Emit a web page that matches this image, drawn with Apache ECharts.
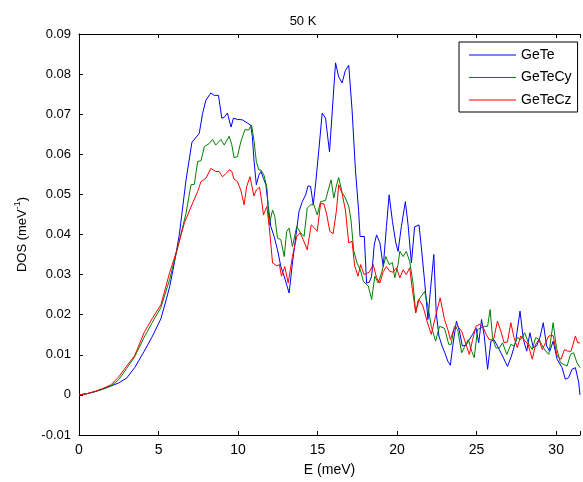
<!DOCTYPE html>
<html>
<head>
<meta charset="utf-8">
<script src="https://cdn.jsdelivr.net/npm/echarts@6/dist/echarts.min.js"></script>
<style>html,body{margin:0;padding:0;background:#fff}#c{width:583px;height:482px}</style>
</head>
<body>
<div id="c"></div>
<script>
const seriesNames = ['GeTe', 'GeTeCy', 'GeTeCz'];
const seriesColors = ['#0000ff', '#008000', '#ff0000'];

const eGeTe = [0,0.5,1,1.5,2,2.5,3,3.5,4.1,4.6,5.15,5.5,5.7,6.0,6.31,6.73,7.1,7.56,7.77,7.98,8.29,8.5,8.6,8.77,8.98,9.13,9.33,9.56,9.71,9.96,10.27,10.58,10.79,10.9,11.0,11.15,11.31,11.44,11.6,11.75,11.9,12.06,12.27,12.48,12.69,12.9,13.21,13.42,13.63,13.83,14.04,14.25,14.4,14.56,14.73,14.88,15.08,15.29,15.5,15.75,15.92,16.13,16.33,16.54,16.75,16.96,17.17,17.38,17.58,17.67,17.94,18.08,18.25,18.4,18.56,18.71,18.92,19.13,19.33,19.5,19.71,19.92,20.06,20.27,20.52,20.69,20.9,21.1,21.38,21.52,21.73,21.94,22.1,22.31,22.46,22.63,22.83,23.0,23.19,23.35,23.5,23.73,23.92,24.1,24.33,24.54,24.75,24.96,25.13,25.31,25.48,25.69,25.9,26.1,26.31,26.63,26.94,27.19,27.46,27.73,27.94,28.15,28.35,28.56,28.77,28.98,29.19,29.4,29.6,29.81,30.06,30.37,30.58,30.79,31.0,31.21,31.42,31.5];
const dosGeTe = [0,0.0003,0.0008,0.0015,0.0022,0.003,0.0042,0.0068,0.0109,0.0145,0.019,0.024,0.027,0.033,0.04,0.0536,0.063,0.0652,0.0702,0.0735,0.0753,0.0747,0.0745,0.0747,0.069,0.0692,0.0703,0.0668,0.069,0.0687,0.0686,0.0678,0.0673,0.0644,0.0586,0.0524,0.0548,0.0557,0.054,0.0524,0.047,0.042,0.0395,0.0362,0.032,0.0296,0.0254,0.0329,0.0395,0.0457,0.0482,0.0499,0.0521,0.052,0.0474,0.0528,0.0611,0.0703,0.069,0.0606,0.0706,0.0828,0.0793,0.0778,0.0809,0.0822,0.071,0.0561,0.046,0.0395,0.0395,0.0279,0.0281,0.0296,0.0374,0.0399,0.0379,0.032,0.042,0.0499,0.0432,0.0379,0.0358,0.042,0.0482,0.0424,0.0329,0.0419,0.0424,0.037,0.0283,0.0188,0.0263,0.035,0.0205,0.0147,0.0122,0.0105,0.0084,0.0074,0.0122,0.0184,0.0159,0.0122,0.0124,0.0138,0.0151,0.0167,0.013,0.0188,0.0147,0.0064,0.0134,0.0137,0.0122,0.0097,0.0071,0.0097,0.0134,0.0209,0.0138,0.0109,0.0155,0.0118,0.0122,0.0143,0.018,0.0122,0.0109,0.0134,0.0089,0.0068,0.0039,0.0043,0.0064,0.0068,0.0031,0.0];

const eGeTeCy = [0,0.5,1,1.5,2,2.5,3,3.5,4.1,4.6,5.15,5.7,6.2,6.73,7.04,7.25,7.46,7.67,7.88,8.19,8.4,8.6,8.92,9.13,9.44,9.6,9.75,9.96,10.17,10.44,10.65,10.85,11.0,11.15,11.3,11.44,11.63,11.75,11.83,11.96,12.17,12.31,12.48,12.69,12.79,12.9,13.06,13.21,13.42,13.69,13.94,14.15,14.35,14.56,14.77,14.98,15.19,15.5,15.67,15.85,16.02,16.17,16.33,16.54,16.75,16.96,17.1,17.27,17.48,17.69,17.88,18.19,18.4,18.6,18.81,19.02,19.29,19.5,19.71,19.85,20.06,20.17,20.38,20.58,20.79,21.0,21.17,21.31,21.52,21.73,21.94,22.15,22.42,22.67,22.98,23.25,23.4,23.6,23.81,24.06,24.27,24.48,24.69,24.85,25.06,25.27,25.48,25.69,25.85,26.0,26.2,26.42,26.63,26.9,27.15,27.35,27.56,27.77,28.02,28.29,28.5,28.71,28.94,29.13,29.35,29.54,29.81,30.02,30.27,30.48,30.69,30.9,31.1,31.31,31.5];
const dosGeTeCy = [0,0.0003,0.0008,0.0014,0.0022,0.0038,0.0066,0.0095,0.0144,0.018,0.0218,0.0288,0.0367,0.0453,0.0524,0.0525,0.0582,0.0584,0.0619,0.0627,0.0637,0.0623,0.0637,0.0623,0.0645,0.0625,0.0592,0.0594,0.0631,0.0662,0.066,0.0673,0.0635,0.0582,0.0561,0.0561,0.0548,0.0528,0.0511,0.0424,0.0461,0.0445,0.0391,0.0387,0.0391,0.0345,0.0408,0.0416,0.037,0.042,0.0404,0.0395,0.0466,0.0474,0.0474,0.0449,0.0482,0.0485,0.0511,0.0536,0.0491,0.0519,0.0542,0.0505,0.0491,0.047,0.0437,0.036,0.0329,0.0312,0.0283,0.0271,0.0238,0.0296,0.0279,0.0304,0.0345,0.0325,0.033,0.0292,0.0325,0.0358,0.0345,0.0358,0.0333,0.0279,0.0205,0.0234,0.0246,0.0258,0.0221,0.0171,0.0134,0.0171,0.0166,0.0126,0.0126,0.0171,0.0163,0.0105,0.0122,0.0138,0.0109,0.0093,0.0163,0.0167,0.0171,0.0171,0.0213,0.0143,0.0118,0.0116,0.013,0.0101,0.0126,0.0122,0.0143,0.0138,0.0155,0.0126,0.0113,0.0143,0.0138,0.0122,0.0109,0.0101,0.018,0.0118,0.008,0.0076,0.0072,0.0101,0.0105,0.008,0.0068];

const eGeTeCz = [0,0.5,1,1.5,2,2.5,3,3.5,4.1,4.6,5.15,5.7,6.1,6.63,7.15,7.46,7.67,7.98,8.29,8.6,8.81,9.02,9.27,9.44,9.6,9.75,9.96,10.17,10.38,10.54,10.75,11.0,11.15,11.35,11.52,11.6,11.81,11.96,12.17,12.44,12.6,12.73,12.94,13.15,13.42,13.69,13.9,14.1,14.35,14.6,14.81,14.98,15.19,15.4,15.56,15.77,15.98,16.19,16.33,16.54,16.75,16.96,17.17,17.33,17.54,17.71,17.92,18.25,18.5,18.71,18.92,19.13,19.33,19.54,19.75,19.96,20.17,20.38,20.58,20.79,20.96,21.17,21.38,21.63,21.88,22.15,22.42,22.71,22.98,23.19,23.35,23.56,23.81,24.06,24.33,24.54,24.75,24.96,25.17,25.38,25.6,25.79,26.06,26.31,26.52,26.73,26.94,27.15,27.35,27.56,27.77,27.98,28.23,28.5,28.71,28.92,29.13,29.33,29.54,29.81,30.06,30.31,30.52,30.73,30.94,31.21,31.35,31.5];
const dosGeTeCz = [0,0.0003,0.0009,0.0016,0.0025,0.0045,0.0072,0.0098,0.0156,0.019,0.0225,0.0305,0.0354,0.0429,0.0479,0.0507,0.0532,0.054,0.0565,0.0557,0.0557,0.0544,0.0553,0.0561,0.0558,0.0538,0.0532,0.0511,0.0474,0.0519,0.0544,0.0496,0.0511,0.0518,0.0474,0.0449,0.047,0.042,0.0329,0.0322,0.0325,0.0296,0.032,0.0279,0.0345,0.0395,0.0404,0.0387,0.0362,0.0424,0.0416,0.0408,0.0478,0.0476,0.0453,0.0408,0.0402,0.0461,0.0524,0.0503,0.0461,0.0379,0.0383,0.0322,0.0296,0.0325,0.03,0.0306,0.0325,0.0292,0.0279,0.0308,0.032,0.0308,0.0306,0.0317,0.0292,0.0312,0.03,0.0317,0.0263,0.0205,0.0238,0.0221,0.0184,0.0151,0.0196,0.0242,0.0188,0.0163,0.0138,0.0163,0.0171,0.0159,0.0126,0.0101,0.0138,0.0171,0.0176,0.0171,0.0151,0.0138,0.0137,0.0184,0.0159,0.013,0.0132,0.018,0.0143,0.0118,0.0147,0.0138,0.0126,0.0089,0.0126,0.0138,0.0113,0.013,0.0147,0.0148,0.0097,0.0089,0.0113,0.0109,0.0109,0.0147,0.013,0.013];

const xTicks = [0, 5, 10, 15, 20, 25, 30];
const yTicks = [-0.01, 0, 0.01, 0.02, 0.03, 0.04, 0.05, 0.06, 0.07, 0.08, 0.09];

const zip = (xs, ys) => xs.map((x, i) => [x, ys[i]]);
const allE = [eGeTe, eGeTeCy, eGeTeCz];
const allD = [dosGeTe, dosGeTeCy, dosGeTeCz];

const FONT = 'Liberation Sans, Arial, sans-serif';
const chart = echarts.init(document.getElementById('c'), null, { renderer: 'canvas' });

const axisCommon = {
  type: 'value',
  splitLine: { show: false },
  axisLine: { show: true, onZero: false, lineStyle: { color: '#000', width: 1 } },
  axisTick: { show: true, inside: true, length: 4, lineStyle: { color: '#000' } }
};

chart.setOption({
  animation: false,
  backgroundColor: '#fff',
  title: {
    text: '50 K', left: 298, top: 10, textAlign: 'center',
    textStyle: { fontFamily: FONT, fontSize: 13, fontWeight: 'normal', color: '#000' }
  },
  grid: { left: 79, right: 0, top: 34, bottom: 45, containLabel: false },
  legend: {
    orient: 'vertical', left: 459, top: 42,
    data: seriesNames,
    icon: 'rect',
    itemWidth: 47, itemHeight: 1, itemGap: 6.5,
    padding: [5, 6, 4, 10],
    borderColor: '#000', borderWidth: 1, backgroundColor: '#fff',
    textStyle: { fontFamily: FONT, fontSize: 14, lineHeight: 16, color: '#000' }
  },
  xAxis: [
    Object.assign({}, axisCommon, {
      position: 'bottom', min: 0, max: 31.5, interval: 5,
      name: 'E (meV)', nameLocation: 'middle', nameGap: 28,
      nameTextStyle: { fontFamily: FONT, fontSize: 14, color: '#000' },
      axisLabel: { fontFamily: FONT, fontSize: 14, color: '#000', margin: 8,
        formatter: v => (xTicks.indexOf(v) >= 0 ? String(v) : '') }
    }),
    Object.assign({}, axisCommon, {
      position: 'top', min: 0, max: 31.5, interval: 5,
      axisLabel: { show: false }
    })
  ],
  yAxis: Object.assign({}, axisCommon, {
    min: -0.01, max: 0.09, interval: 0.01,
    name: '{a|DOS (meV}{s|-1}{a|)}', nameLocation: 'middle', nameGap: 50,
    nameTextStyle: {
      fontFamily: FONT, color: '#000',
      rich: {
        a: { fontFamily: FONT, fontSize: 13, color: '#000', lineHeight: 16, verticalAlign: 'bottom' },
        s: { fontFamily: FONT, fontSize: 9, color: '#000', lineHeight: 16, verticalAlign: 'top' }
      }
    },
    axisLabel: { fontFamily: FONT, fontSize: 13, color: '#000', margin: 8,
      formatter: v => {
        const r = Math.round(v * 100) / 100;
        return Math.abs(r) < 1e-9 ? '0' : r.toFixed(2);
      } }
  }),
  series: seriesNames.map((n, i) => ({
    name: n, type: 'line', xAxisIndex: 0,
    data: zip(allE[i], allD[i]),
    symbol: 'none', showSymbol: false, clip: true,
    lineStyle: { color: seriesColors[i], width: 1 },
    itemStyle: { color: seriesColors[i] }
  }))
});
</script>
</body>
</html>
